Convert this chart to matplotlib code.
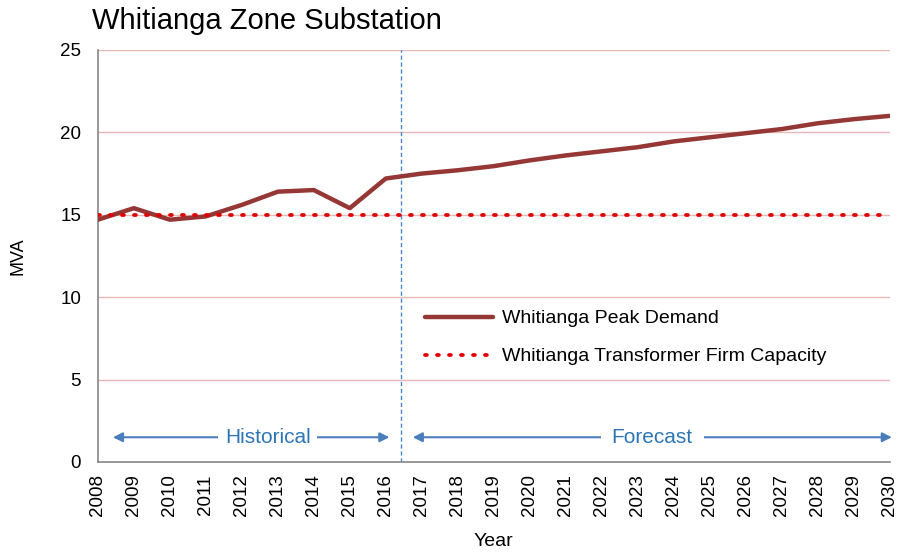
import matplotlib
matplotlib.use("Agg")
import matplotlib.pyplot as plt

plt.rcParams['font.family'] = ['Liberation Sans', 'DejaVu Sans']

years = list(range(2008, 2031))
peak_demand = [14.7, 15.4, 14.7, 14.9, 15.6, 16.4, 16.5, 15.4, 17.2,
               17.5, 17.7, 17.95, 18.3, 18.6, 18.85, 19.1, 19.45, 19.7,
               19.95, 20.2, 20.55, 20.8, 21.0]
firm_capacity = [15.0] * len(years)
divider_year = 2016.42
y_ticks = [0, 5, 10, 15, 20, 25]

fig = plt.figure(figsize=(9.06, 5.55), dpi=100)
ax = fig.add_axes([0.108, 0.1676, 0.874, 0.7424])

ax.plot(years, peak_demand, color='#953735', lw=3.2, label='Whitianga Peak Demand',
        solid_capstyle='round', zorder=3)
ax.plot(years, firm_capacity, color='#e00000', lw=2.7, linestyle=(0, (0.5, 2.7)),
        dash_capstyle='round', label='Whitianga Transformer Firm Capacity', zorder=3)

ax.axvline(divider_year, color='#4a86c8', lw=1, linestyle=(0, (3, 2)), zorder=2)

ax.set_xlim(2008, 2030)
ax.set_ylim(0, 25)
ax.set_yticks(y_ticks)
ax.set_xticks(years)
ax.set_xticklabels([str(y) for y in years], rotation=90, fontsize=13.5)
ax.tick_params(axis='y', labelsize=13.5, length=0, pad=12)
ax.tick_params(axis='x', length=0, pad=9)
ax.grid(axis='y', color='#e6b8b7', lw=1)
ax.set_axisbelow(True)
for s in ['top', 'right']:
    ax.spines[s].set_visible(False)
for s in ['left', 'bottom']:
    ax.spines[s].set_color('#868686')
    ax.spines[s].set_linewidth(1.2)

ax.set_xlabel('Year', fontsize=14, labelpad=12)
ax.set_ylabel('MVA', fontsize=13)
ax.yaxis.set_label_coords(-0.09, 0.5)
fig.text(0.102, 0.962, 'Whitianga Zone Substation', fontsize=21, va='center', ha='left')

leg = ax.legend(loc='center left', bbox_to_anchor=(0.413, 0.302), frameon=False,
                fontsize=14, handlelength=3.5, labelspacing=1.05, handletextpad=0.45,
                borderpad=0, borderaxespad=0)

arrow_color = '#4a7ebb'
text_color = '#2e75b6'
arrow_y = 1.5
def arrow(x0, x1):
    ax.annotate('', xy=(x1, arrow_y), xytext=(x0, arrow_y), annotation_clip=False,
                arrowprops=dict(arrowstyle='<|-|>', color=arrow_color, lw=1.5,
                                mutation_scale=14, shrinkA=0, shrinkB=0))
arrow(2008.42, 2016.1)
ax.text(2012.72, arrow_y, 'Historical', color=text_color, fontsize=15, ha='center', va='center',
        bbox=dict(facecolor='white', edgecolor='none', pad=5))
arrow(2016.75, 2030.06)
ax.text(2023.4, arrow_y, 'Forecast', color=text_color, fontsize=15, ha='center', va='center',
        bbox=dict(facecolor='white', edgecolor='none', pad=8))

fig.savefig('out.png', dpi=100)
